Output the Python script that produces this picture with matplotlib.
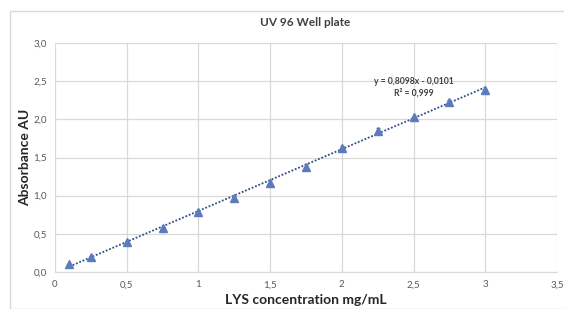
import matplotlib.pyplot as plt
from matplotlib.patches import Rectangle
import numpy as np

plt.rcParams['font.family'] = ['Lato', 'DejaVu Sans']

# Dados
conc = [0.1, 0.25, 0.5, 0.75, 1.0, 1.25, 1.5, 1.75, 2.0, 2.25, 2.5, 2.75, 3.0]
absorb = [0.10, 0.20, 0.39, 0.58, 0.79, 0.97, 1.17, 1.38, 1.63, 1.85, 2.03, 2.23, 2.39]
absorb_err = [0.01, 0.01, 0.01, 0.01, 0.01, 0.02, 0.04, 0.04, 0.02, 0.04, 0.02, 0.02, 0.01]

# Linha de tendência (Excel)
slope = 0.8098
intercept = -0.0101
eq_text = 'y = 0,8098x - 0,0101'
r2_text = 'R² = 0,999'

xticks = [0, 0.5, 1, 1.5, 2, 2.5, 3, 3.5]
yticks = [0, 0.5, 1, 1.5, 2, 2.5, 3]

fig = plt.figure(figsize=(5.64, 3.09), dpi=100)
ax = fig.add_axes([55/564, 1 - 272/309, (557-55)/564, (272-43)/309])

# moldura da área do gráfico
fig.patches.append(Rectangle((10/564, 0), 1, 1 - 11/309, transform=fig.transFigure,
                             fill=False, edgecolor='#d9d9d9', linewidth=1))

# linha de tendência
xt = np.array([conc[0], conc[-1]])
ax.plot(xt, slope * xt + intercept, linestyle=(0, (1, 1)), color='#2f4b8c', linewidth=1.3, zorder=2)

ax.errorbar(conc, absorb, yerr=absorb_err, fmt='^', markersize=5.5,
            markerfacecolor='#5b7bbd', markeredgecolor='#5b7bbd',
            ecolor='#7f7f7f', elinewidth=0.8, capsize=1.5, zorder=3)

ax.text(2.50, 2.49, eq_text, ha='center', va='center', fontsize=6.2,
        fontweight='bold', color='#404040')
ax.text(2.50, 2.35, r2_text, ha='center', va='center', fontsize=6.2,
        fontweight='bold', color='#404040')

ax.set_xlim(0, 3.5)
ax.set_ylim(0, 3)
ax.set_xticks(xticks)
ax.set_yticks(yticks)
ax.set_xticklabels([('%g' % v).replace('.', ',') for v in xticks])
ax.set_yticklabels([('%.1f' % v).replace('.', ',') for v in yticks])
ax.tick_params(length=0, labelsize=7, colors='#595959', pad=6)
ax.grid(True, color='#d9d9d9', linewidth=0.9)
ax.set_axisbelow(True)
for s in ['top', 'right', 'left']:
    ax.spines[s].set_visible(False)
ax.spines['bottom'].set_color('#d9d9d9')

ax.set_xlabel('LYS concentration mg/mL', fontsize=10, fontweight='bold', color='#262626', labelpad=3)
fig.text(25/564, 1 - 157/309, 'Absorbance AU', rotation=90, ha='center', va='center',
         fontsize=10, fontweight='bold', color='#262626')
fig.text(305/564, 1 - 22/309, 'UV 96 Well plate', ha='center', va='center',
         fontsize=8.5, fontweight='bold', color='#404040')

fig.savefig('out.png', dpi=100)
